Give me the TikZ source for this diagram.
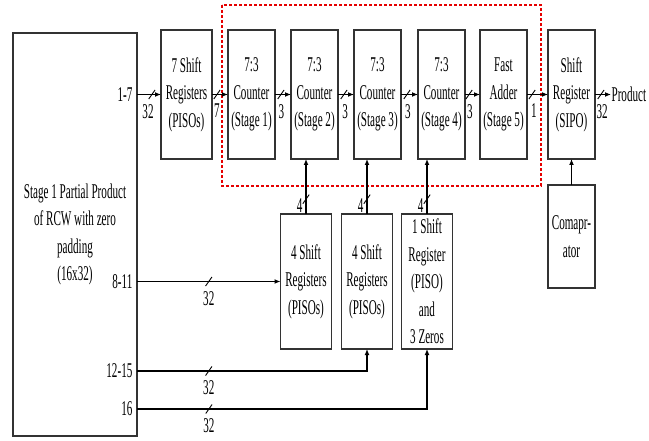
\documentclass[tikz,border=0pt]{standalone}
\usepackage{fontspec}
\setmainfont[FakeStretch=0.53]{Liberation Serif}
\usepackage{tikz}
\usetikzlibrary{arrows.meta,positioning,calc}

\begin{document}
\begin{tikzpicture}[
  x=1pt, y=-1pt, >={Latex[length=6pt,width=5pt]}, line width=1.2pt,
  blk/.style={rectangle, draw=black!80, line width=1.6pt, align=center, inner sep=0pt, outer sep=0pt,
    minimum width=47pt, minimum height=129pt, font=\fontsize{21}{27.5}\selectfont},
  lowblk/.style={blk, minimum width=51pt, minimum height=135pt},
  lbl/.style={inner sep=1pt, font=\fontsize{21}{27.5}\selectfont},
  busmark/.style={draw, rectangle, minimum width=0pt, minimum height=11pt, inner sep=0pt,
    rotate=-35, line width=.9pt},
  region/.style={draw=red!90!black, line width=1.4pt, dash pattern=on 3pt off 2pt},
]
  \useasboundingbox (0,0) rectangle (649,441);

  \node[blk, minimum width=124pt, minimum height=403pt] (rcw) at (75,234.5)
    {Stage 1 Partial Product\\of RCW with zero\\padding\\(16x32)};
  \node[blk, minimum width=51pt] (piso) at (186.5,94.5) {7 Shift\\Registers\\(PISOs)};
  \node[blk, right=16pt of piso] (c1) {7:3\\Counter\\(Stage 1)};
  \node[blk, right=16pt of c1] (c2) {7:3\\Counter\\(Stage 2)};
  \node[blk, right=16pt of c2] (c3) {7:3\\Counter\\(Stage 3)};
  \node[blk, right=17pt of c3] (c4) {7:3\\Counter\\(Stage 4)};
  \node[blk, right=15pt of c4] (adder) {Fast\\Adder\\(Stage 5)};
  \node[blk, right=21pt of adder] (sipo) {Shift\\Register\\(SIPO)};
  \node[lbl, inner sep=0pt, right=16pt of sipo] (prod) {Product};
  \node[blk, minimum height=103pt, below=26pt of sipo] (cmp) {Comapr-\\ator};

  \node[lowblk] (b1) at (306,281.5) {4 Shift\\Registers\\(PISOs)};
  \node[lowblk, right=10pt of b1] (b2) {4 Shift\\Registers\\(PISOs)};
  \node[lowblk, right=9pt of b2] (b3) {1 Shift\\Register\\(PISO)\\and\\3 Zeros};

  \draw[region] ($(c1.north west)+(-6,-25)$) rectangle ($(adder.south east)+(14,27)$);

  \coordinate (r12) at (0,371);
  \coordinate (r16) at (0,409);

  % top row
  \draw[->] (rcw.east |- piso) -- (piso) node[pos=0, left=3pt, lbl]{1-7}
    node[pos=.62, busmark]{} node[pos=.46, below=8pt, lbl]{32};
  \draw[->] (piso) -- (c1) node[pos=.31, busmark]{} node[pos=.31, below=8pt, lbl]{7};
  \draw[->] (c1) -- (c2) node[pos=.37, busmark]{} node[pos=.4, below=8pt, lbl]{3};
  \draw[->] (c2) -- (c3) node[pos=.37, busmark]{} node[pos=.45, below=8pt, lbl]{3};
  \draw[->] (c3) -- (c4) node[pos=.35, busmark]{} node[pos=.4, below=8pt, lbl]{3};
  \draw[->] (c4) -- (adder) node[pos=.27, busmark]{} node[pos=.33, below=8pt, lbl]{3};
  \draw[->] (adder) -- (sipo) node[pos=.24, busmark]{} node[pos=.33, below=8pt, lbl]{1};
  \draw[->] (sipo) -- (prod) node[pos=.37, busmark]{} node[pos=.45, below=8pt, lbl]{32};
  \draw[->] (cmp) -- (sipo);

  % inputs from the lower registers
  \draw[->] (b1) -- (b1 |- c2.south) node[pos=.27, busmark]{} node[pos=.16, left=2pt, lbl]{4};
  \draw[->] (b2) -- (b2 |- c3.south) node[pos=.27, busmark]{} node[pos=.16, left=2pt, lbl]{4};
  \draw[->] (b3) -- (b3 |- c4.south) node[pos=.27, busmark]{} node[pos=.16, left=2pt, lbl]{4};

  % rows 8-16
  \draw[->] (rcw.east |- b1) -- (b1) node[pos=0, left=3pt, lbl]{8-11}
    node[midway, busmark]{} node[midway, below=8pt, lbl]{32};
  \draw[->] (rcw.east |- r12) -| (b2) node[pos=0, left=3pt, lbl]{12-15}
    node[pos=.156, busmark]{} node[pos=.156, below=8pt, lbl]{32};
  \draw[->] (rcw.east |- r16) -| (b3) node[pos=0, left=3pt, lbl]{16}
    node[pos=.124, busmark]{} node[pos=.124, below=8pt, lbl]{32};
\end{tikzpicture}
\end{document}
